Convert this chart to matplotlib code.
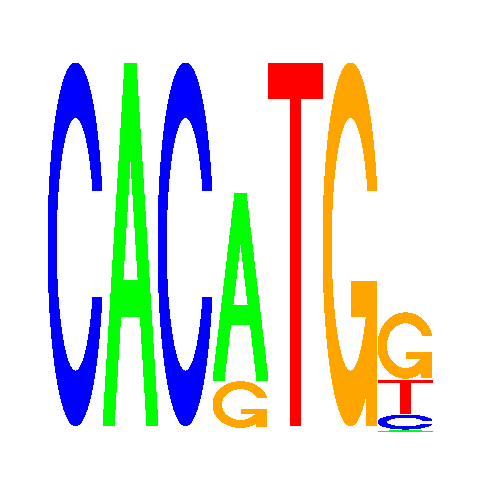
import numpy as np
import matplotlib
matplotlib.use('Agg')
import matplotlib.pyplot as plt
from matplotlib.path import Path
from matplotlib.patches import PathPatch

# letter heights (bits) per position
positions = [1, 2, 3, 4, 5, 6, 7]
bits_A = [0.0, 2.0, 0.0, 1.032, 0.0, 0.0, 0.0055]
bits_C = [2.0, 0.0, 2.0, 0.0, 0.0, 0.0, 0.077]
bits_G = [0.0, 0.0, 0.0, 0.251, 0.0, 2.0, 0.36]
bits_T = [0.0, 0.0, 0.0, 0.0, 2.0, 0.0, 0.1875]
# where each stack starts (slightly below zero in two columns)
stack_base = [0.0, 0.0, 0.0, -0.009, 0.0, 0.0, -0.032]
gap = 0.008

colors = {'A': '#00ff00', 'C': '#0000ff', 'G': '#ffa500', 'T': '#ff0000'}


# letter outlines in a unit box
def poly_path(polys):
    verts, codes = [], []
    for p in polys:
        verts += list(p) + [p[0]]
        codes += [Path.MOVETO] + [Path.LINETO] * (len(p) - 1) + [Path.CLOSEPOLY]
    return Path(np.array(verts, float), codes)


def ring():
    a1 = np.linspace(0.3 + np.pi / 2, np.pi, 100)
    a2 = np.linspace(np.pi, 1.5 * np.pi, 100)
    xl = np.r_[0.5 + 0.5 * np.sin(a1), 0.5 + 0.5 * np.sin(a2)]
    yl = np.r_[0.5 + 0.5 * np.cos(a1), 0.5 + 0.5 * np.cos(a2)]
    top = (0.5 + 0.5 * np.cos(a1)).max()
    xo = np.r_[xl, xl[::-1]]
    yo = np.r_[yl, 1 - yl[::-1]]
    xi1 = 0.5 + 0.35 * np.sin(a1)
    yi1 = 0.5 + 0.35 * np.cos(a1)
    keep = yi1 <= top
    xi1, yi1 = xi1[keep], yi1[keep]
    yi1[0] = top
    xi = np.r_[xi1, 0.5 + 0.35 * np.sin(a2)]
    yi = np.r_[yi1, 0.5 + 0.35 * np.cos(a2)]
    xin = np.r_[xi, xi[::-1]]
    yin = np.r_[yi, 1 - yi[::-1]]
    x = np.r_[xo, xin[::-1]]
    y = np.r_[yo, yin[::-1]]
    return list(zip(x, y)), (0.5 + 0.5 * np.sin(a1)).max()


ring_pts, r1 = ring()
shapes = {
    'A': [poly_path([[(0, 0), (0.4, 1), (0.6, 1), (1, 0), (0.8, 0), (0.68, 0.3),
                      (0.32, 0.3), (0.2, 0)],
                     [(0.64, 0.4), (0.5, 0.75), (0.36, 0.4)]])],
    'T': [poly_path([[(0, 1), (1, 1), (1, 0.9), (0.6, 0.9), (0.6, 0), (0.4, 0),
                      (0.4, 0.9), (0, 0.9)]])],
    'C': [poly_path([ring_pts])],
    'G': [poly_path([ring_pts]),
          poly_path([[(r1, 0.4), (0.5, 0.4), (0.5, 0.3), (r1 - 0.2, 0.3),
                      (r1 - 0.2, 0), (r1, 0)]])],
}

fig = plt.figure(figsize=(4.8, 4.8), dpi=100)
ax = fig.add_axes([48 / 480, 54.3 / 480, 385 / 480, 362.7 / 480])
ax.set_xlim(0.5, 7.5)
ax.set_ylim(0, 2)
ax.axis('off')


def draw_letter(ch, x, y, h):
    for path in shapes[ch]:
        v = path.vertices.copy()
        v[:, 0] = x - 0.5 + v[:, 0]
        v[:, 1] = y + h * v[:, 1]
        ax.add_patch(PathPatch(Path(v, path.codes), facecolor=colors[ch],
                               edgecolor='none', antialiased=False, clip_on=False))


for i, p in enumerate(positions):
    col = [('A', bits_A[i]), ('C', bits_C[i]), ('G', bits_G[i]), ('T', bits_T[i])]
    col = sorted([c for c in col if c[1] > 0], key=lambda c: c[1])
    y = stack_base[i]
    for ch, h in col:
        draw_letter(ch, p, y, h)
        y += h + gap

plt.savefig('out.png', dpi=100, facecolor='white')
